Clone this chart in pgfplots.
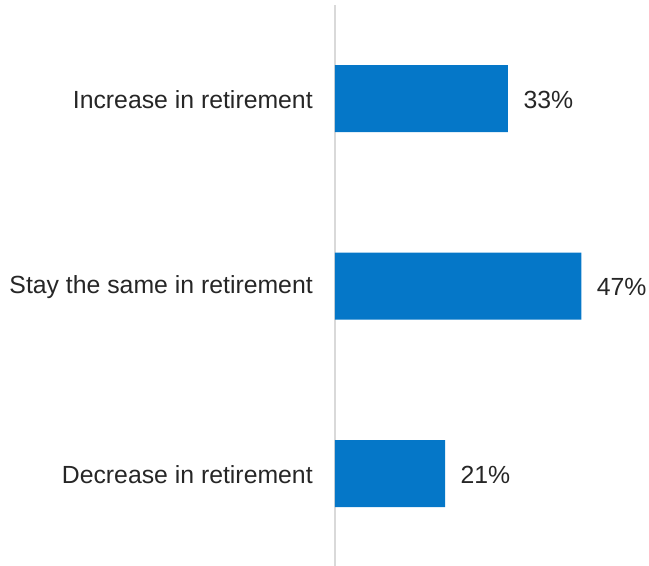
\documentclass[border=0pt]{standalone}
\usepackage{fontspec}
\setmainfont{Liberation Sans}
\usepackage{pgfplots}
\pgfplotsset{compat=1.18}
\definecolor{barblue}{HTML}{0577C8}
\definecolor{txt}{HTML}{262626}
\definecolor{axgray}{HTML}{D9D9D9}
\begin{document}
\begin{tikzpicture}
\useasboundingbox (-251.25pt,1.69pt) rectangle (235.5pt,425.44pt);
\begin{axis}[
  scale only axis, width=235.5pt, height=421.875pt,
  xmin=0, xmax=59.92, ymin=-0.5, ymax=2.5,
  xbar, bar width=50.25pt, bar shift=0pt,
  axis x line=none, axis y line*=left,
  y axis line style={draw=axgray, line width=1.1pt},
  ytick={0,1,2},
  yticklabels={Decrease in retirement, Stay the same in retirement, Increase in retirement},
  major tick length=0pt, xtick=\empty,
  yticklabel style={anchor=east, inner sep=0pt, xshift=-16.5pt, yshift=-0.8pt, font=\fontsize{18.6}{22}\selectfont, text=txt},
  point meta=x,
  nodes near coords={\pgfmathprintnumber\pgfplotspointmeta\%},
  nodes near coords style={anchor=west, inner sep=0pt, xshift=11.5pt, yshift=-0.8pt, font=\fontsize{18.6}{22}\selectfont, text=txt},
  /pgf/number format/assume math mode=true,
]
\addplot[fill=barblue, draw=none] coordinates {(21,0) (47,1) (33,2)};
\end{axis}
\end{tikzpicture}
\end{document}
